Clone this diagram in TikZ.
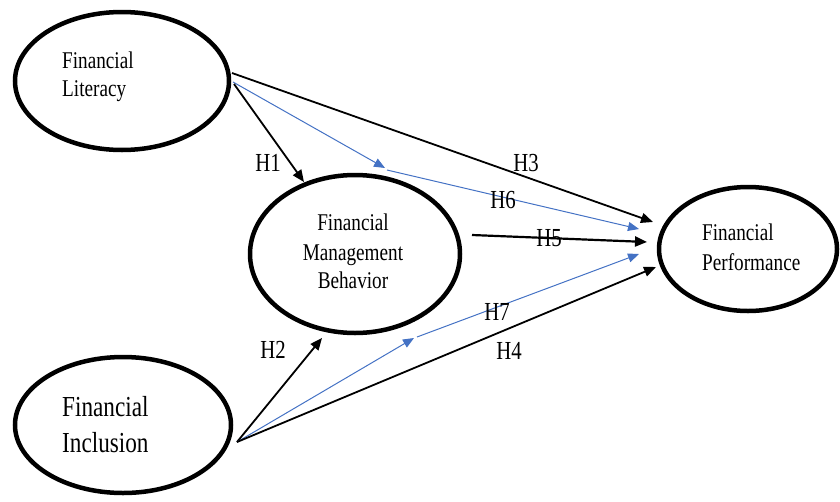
\documentclass[tikz,border=0pt]{standalone}
\usepackage{fontspec}
\setmainfont{Liberation Serif}[FakeStretch=0.8]
\usetikzlibrary{arrows.meta,shapes.geometric}
\definecolor{arrowblue}{HTML}{4472C4}
\begin{document}
\begin{tikzpicture}[x=1pt,y=-1pt,
  latent/.style={draw, ellipse, line width=4.5pt, inner sep=0pt},
  lbl/.style={font=\fontsize{24}{29}\selectfont, anchor=base west, inner sep=0pt},
  lblc/.style={font=\fontsize{24}{29}\selectfont, anchor=base, inner sep=0pt},
  biglbl/.style={font=\fontsize{29}{35}\selectfont, anchor=base west, inner sep=0pt},
  hyp/.style={font=\fontsize{26}{30}\selectfont, inner sep=0pt},
  blk/.style={draw=black, line width=1.8pt, -{Triangle[length=12pt,width=10pt]}},
  blu/.style={draw=arrowblue, line width=1pt, -{Triangle[length=11pt,width=9pt]}}]
\useasboundingbox (0,0) rectangle (840,501);
% latent variables
\node[latent, minimum width=214pt, minimum height=138pt] (fl) at (122,81) {};
\node[latent, minimum width=210pt, minimum height=158pt] (fmb) at (355,254) {};
\node[latent, minimum width=178pt, minimum height=124pt] (fp) at (748,249) {};
\node[latent, minimum width=216pt, minimum height=136pt] (fi) at (123,425) {};
% texts
\node[lbl] (flA) at (62,68) {Financial};
\node[lbl] (flB) at (62,96) {Literacy};
\node[lblc] (fmbA) at (353,230) {Financial};
\node[lblc] (fmbB) at (353,260) {Management};
\node[lblc] (fmbC) at (353,288) {Behavior};
\node[lbl] (fpA) at (702,240) {Financial};
\node[lbl] (fpB) at (702,270) {Performance};
\node[biglbl] (fiA) at (62,416) {Financial};
\node[biglbl] (fiB) at (62,452) {Inclusion};
% connector end points
\coordinate (flo1) at (232,73);
\coordinate (flo2) at (233,82);
\coordinate (flo3) at (234,84);
\coordinate (fio) at (237,442);
\coordinate (h1t) at (304,182);
\coordinate (h2t) at (322,338);
\coordinate (h3t) at (653,222);
\coordinate (h4t) at (656,267);
\coordinate (h5s) at (472,235);
\coordinate (h5t) at (647,242);
\coordinate (h6m) at (385,168);
\coordinate (h6s) at (387,170);
\coordinate (h6t) at (639,229);
\coordinate (h7m) at (414,338);
\coordinate (h7s) at (417,337);
\coordinate (h7t) at (639,254);
% connectors
\draw[blk] (flo1) -- (h3t);
\draw[blu] (flo2) -- (h6m);
\draw[blu] (h6s) -- (h6t);
\draw[blk] (flo3) -- (h1t);
\draw[blk, line width=2.2pt] (h5s) -- (h5t);
\draw[blk] (fio) -- (h2t);
\draw[blu] (fio) -- (h7m);
\draw[blu] (h7s) -- (h7t);
\draw[blk] (fio) -- (h4t);
% hypothesis labels
\node[hyp] (H1) at (268,163) {H1};
\node[hyp] (H2) at (273,350) {H2};
\node[hyp] (H3) at (526,163) {H3};
\node[hyp] (H4) at (509,351) {H4};
\node[hyp] (H5) at (549,238) {H5};
\node[hyp] (H6) at (503,200) {H6};
\node[hyp] (H7) at (497,312) {H7};
\end{tikzpicture}
\end{document}
